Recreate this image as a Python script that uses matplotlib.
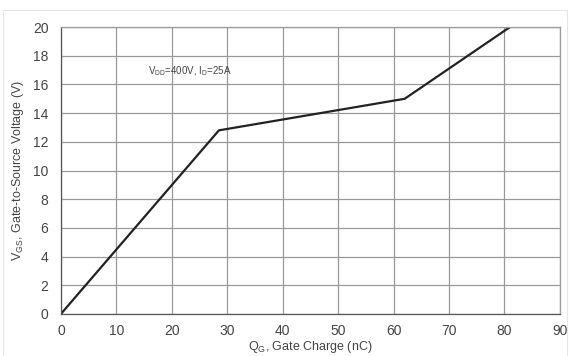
import matplotlib
matplotlib.use("Agg")
import matplotlib.pyplot as plt
from matplotlib.patches import Rectangle

# Gate charge curve
qg_nc = [0, 28.5, 62, 81]
vgs_v = [0, 12.8, 15, 20]

x_ticks = [0, 10, 20, 30, 40, 50, 60, 70, 80, 90]
y_ticks = [0, 2, 4, 6, 8, 10, 12, 14, 16, 18, 20]

plt.rcParams.update({
    "font.family": ["Liberation Sans", "DejaVu Sans"],
    "text.color": "#444444",
})

fig = plt.figure(figsize=(5.69, 3.56), dpi=100)
ax = fig.add_axes([0.107, 0.118, 0.877, 0.806])

# faint frame around the figure
fig.patches.append(Rectangle((0.006, 0.0), 0.99, 0.972, transform=fig.transFigure,
                             fill=False, edgecolor="#e6e6e6", linewidth=0.8))

ax.plot(qg_nc, vgs_v, color="#222222", linewidth=1.6)

ax.set_xlim(0, 90)
ax.set_ylim(0, 20)
ax.set_xticks(x_ticks)
ax.set_yticks(y_ticks)
ax.grid(True, color="#9a9a9a", linewidth=0.9)
ax.set_axisbelow(True)
for s in ax.spines.values():
    s.set_color("#9a9a9a")
    s.set_linewidth(0.9)
ax.spines["left"].set_color("#555555")
ax.spines["bottom"].set_color("#555555")
ax.tick_params(axis="y", length=0, pad=9, labelsize=10, colors="#444444")
ax.tick_params(axis="x", length=0, pad=7, labelsize=10, colors="#444444")

ax.set_xlabel("Q$_\\mathregular{G}$, Gate Charge (nC)", fontsize=9, color="#444444", labelpad=1)
ax.set_ylabel("V$_\\mathregular{GS}$, Gate-to-Source Voltage (V)", fontsize=9, color="#444444", labelpad=5)

ax.text(15.7, 16.9, "V$_\\mathregular{DD}$=400V, I$_\\mathregular{D}$=25A",
        fontsize=7, color="#444444", va="center")

fig.savefig("out.png", dpi=100)
